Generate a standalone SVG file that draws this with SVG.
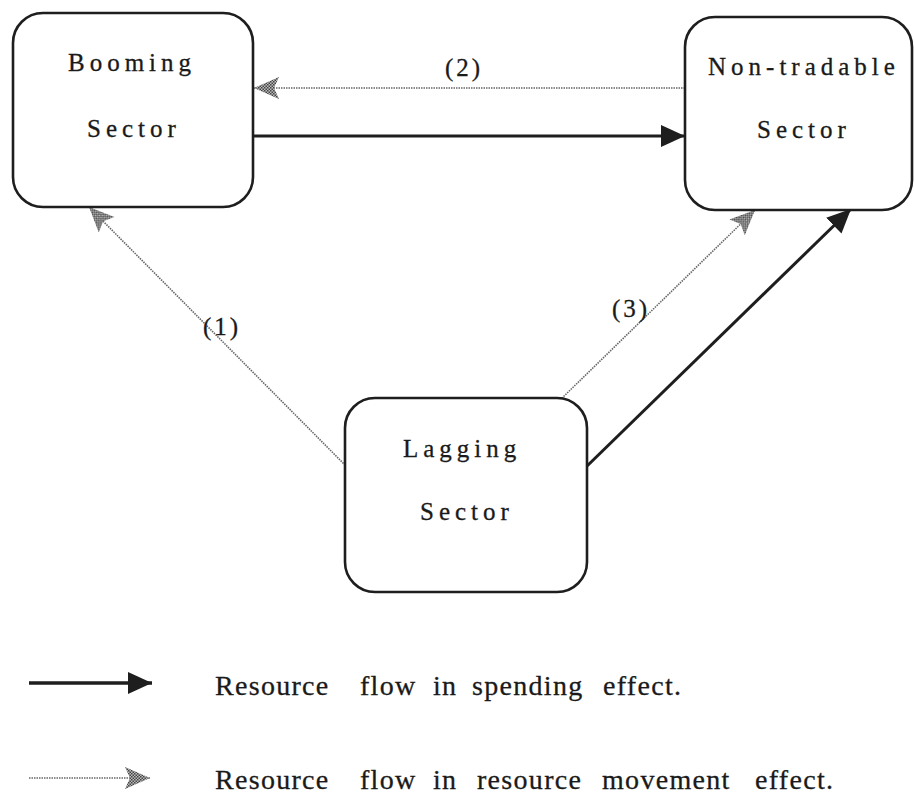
<svg xmlns="http://www.w3.org/2000/svg" width="914" height="801" viewBox="0 0 914 801">
<style>
.box{fill:#fff;stroke:#1e1e1e;stroke-width:2.6}
.lbl{font-size:25px;letter-spacing:5px;fill:#1a1a1a;stroke:#1a1a1a;stroke-width:0.3}
.num{font-size:25px;letter-spacing:3px;fill:#1a1a1a;stroke:#1a1a1a;stroke-width:0.3}
.leg{font-size:28px;letter-spacing:1.3px;fill:#1a1a1a;stroke:#1a1a1a;stroke-width:0.3}
.solid{stroke:#1e1e1e;stroke-width:3;fill:none}
.dot{stroke:#666;stroke-width:1.6;stroke-dasharray:1.5 1;fill:none}
</style>
<defs>
<pattern id="checker" width="3" height="3" patternUnits="userSpaceOnUse">
<rect width="3" height="3" fill="#bbb"/>
<rect width="1.5" height="1.5" fill="#444"/>
<rect x="1.5" y="1.5" width="1.5" height="1.5" fill="#444"/>
</pattern>
<marker id="hs" markerUnits="userSpaceOnUse" markerWidth="26" markerHeight="24" refX="24" refY="11" orient="auto">
<path d="M0,0 L24,11 L0,22 Z" fill="#1e1e1e"/>
</marker>
<marker id="hd" markerUnits="userSpaceOnUse" markerWidth="28" markerHeight="24" refX="25" refY="11" orient="auto">
<path d="M0,0 L25,11 L0,22 L5,11 Z" fill="url(#checker)"/>
</marker>
</defs>
<g font-family="'Liberation Serif', 'Times New Roman', 'DejaVu Serif', serif">
<g id="connectors">
<line class="dot" x1="685" y1="88" x2="254" y2="88" marker-end="url(#hd)"/>
<line class="solid" x1="253" y1="136" x2="685" y2="136" marker-end="url(#hs)"/>
<line class="dot" x1="347" y1="467" x2="89" y2="207" marker-end="url(#hd)"/>
<line class="dot" x1="560" y1="400" x2="755" y2="210" marker-end="url(#hd)"/>
<line class="solid" x1="585" y1="468" x2="851" y2="209" marker-end="url(#hs)"/>
<text class="num" x="445" y="76">(2)</text>
<text class="num" x="203" y="335">(1)</text>
<text class="num" x="612" y="317">(3)</text>
</g>
<g id="booming">
<rect class="box" x="13" y="13" width="240" height="194" rx="30"/>
<text class="lbl" x="68" y="71">Booming</text>
<text class="lbl" x="87" y="137">Sector</text>
</g>
<g id="nontradable">
<rect class="box" x="685" y="17" width="227" height="193" rx="30"/>
<text class="lbl" x="708" y="75">Non-tradable</text>
<text class="lbl" x="757" y="138">Sector</text>
</g>
<g id="lagging">
<rect class="box" x="345" y="398" width="242" height="194" rx="30"/>
<text class="lbl" x="403" y="457">Lagging</text>
<text class="lbl" x="420" y="520">Sector</text>
</g>
<g id="legend">
<line x1="29" y1="683" x2="152" y2="683" stroke="#1e1e1e" stroke-width="3.5" marker-end="url(#hs)"/>
<line class="dot" x1="29" y1="778" x2="150" y2="778" marker-end="url(#hd)"/>
<text class="leg" y="695"><tspan x="215">Resource</tspan><tspan x="360">flow</tspan><tspan x="433">in</tspan><tspan x="472">spending</tspan><tspan x="603">effect.</tspan></text>
<text class="leg" y="789"><tspan x="215">Resource</tspan><tspan x="360">flow</tspan><tspan x="433">in</tspan><tspan x="477">resource</tspan><tspan x="602">movement</tspan><tspan x="755">effect.</tspan></text>
</g>
</g>
</svg>
